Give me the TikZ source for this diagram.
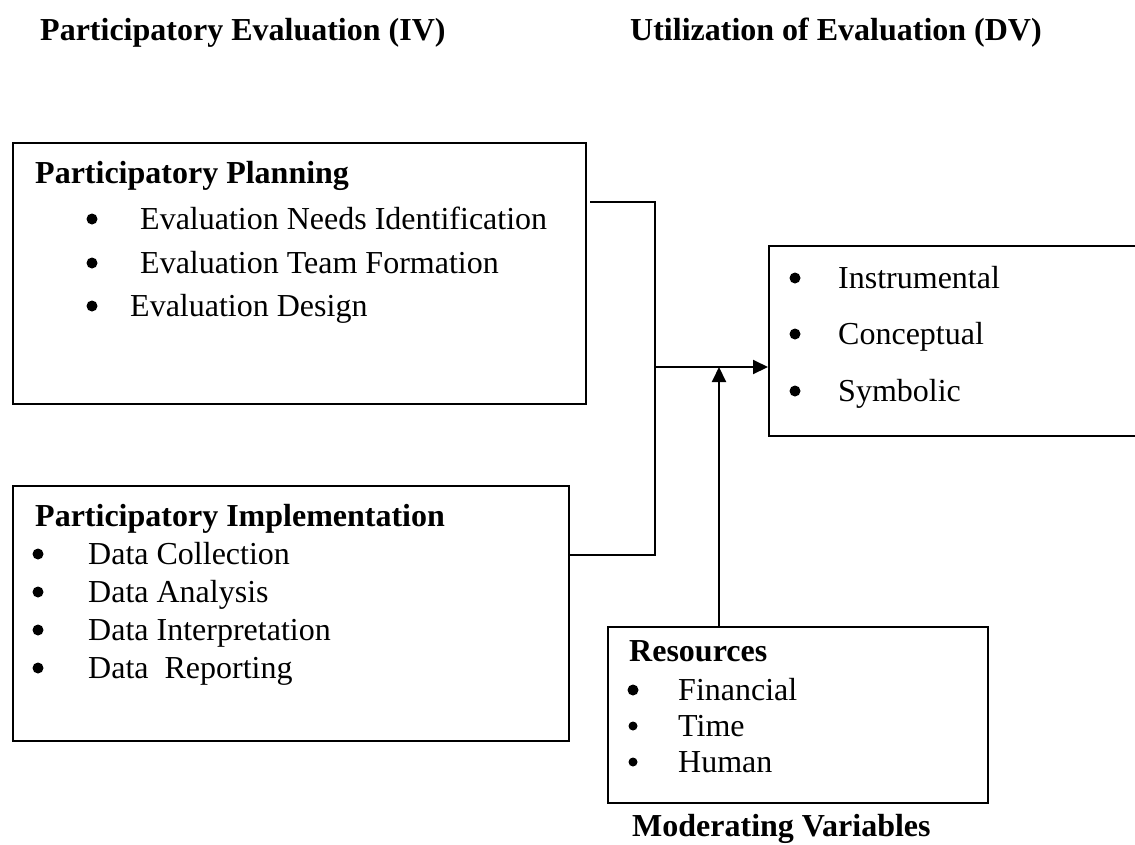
\documentclass[tikz,border=0pt]{standalone}
\usepackage{fontspec}
\setmainfont{Liberation Serif}
\usetikzlibrary{arrows.meta}
\tikzset{
  box/.style={draw, line width=2pt, anchor=north west, inner sep=0pt},
  txt/.style={anchor=base west, inner sep=0pt, font=\fontsize{32}{38}\selectfont},
  hd/.style={txt, font=\fontsize{32}{38}\selectfont\bfseries},
  conn/.style={line width=2pt},
  arr/.style={conn, -{Triangle[length=15pt,width=14pt]}},
  dot/.style={fill=black}
}
\begin{document}
\begin{tikzpicture}[x=1pt,y=-1pt]
\useasboundingbox (0,0) rectangle (1135,844);
% titles
\node[hd] (t1) at (40,40) {Participatory Evaluation (IV)};
\node[hd] (t2) at (630,40) {Utilization of Evaluation (DV)};
% boxes
\node[box, minimum width=573pt, minimum height=261pt] (pp) at (12,142) {};
\node[box, minimum width=556pt, minimum height=255pt] (pi) at (12,485) {};
\node[box, minimum width=380pt, minimum height=190pt] (ut) at (768,245) {};
\node[box, minimum width=380pt, minimum height=176pt] (rs) at (607,626) {};
% planning text
\node[hd] (pph) at (35,183) {Participatory Planning};
\foreach \yy/\xx/\t [count=\i] in {229/140/Evaluation Needs Identification, 273/140/Evaluation Team Formation, 316/130/Evaluation Design}{
  \fill[dot] (92,\yy-10) circle (5.5);
  \node[txt] (pp\i) at (\xx,\yy) {\t};
}
% implementation text
\node[hd] (pih) at (35,526) {Participatory Implementation};
\foreach \yy/\t [count=\i] in {564/Data Collection, 602/Data Analysis, 640/Data Interpretation, 678/Data\ \ Reporting}{
  \fill[dot] (38,\yy-10) circle (5.5);
  \node[txt] (pi\i) at (88,\yy) {\t};
}
% utilization text
\foreach \yy/\t [count=\i] in {288/Instrumental, 344/Conceptual, 401/Symbolic}{
  \fill[dot] (795,\yy-10) circle (5.5);
  \node[txt] (ut\i) at (838,\yy) {\t};
}
% resources text
\node[hd] (rsh) at (629,661) {Resources};
\fill[dot] (633,690) circle (5.5);
\node[txt] (rs1) at (678,700) {Financial};
\fill[dot] (633,726) circle (4.5);
\node[txt] (rs2) at (678,736) {Time};
\fill[dot] (633,762) circle (4.5);
\node[txt] (rs3) at (678,772) {Human};
\node[hd] (mv) at (632,836) {Moderating Variables};
% connectors
\coordinate (a1) at (590,202);
\coordinate (a2) at (655,202);
\coordinate (a3) at (655,555);
\coordinate (a4) at (570,555);
\coordinate (j) at (655,367);
\coordinate (m) at (719,367);
\draw[conn] (a1) -- (a2) -- (a3) -- (a4);
\draw[arr] (j) -- (j -| ut.west);
\draw[arr] (rs.north -| m) -- (m);
\end{tikzpicture}
\end{document}
